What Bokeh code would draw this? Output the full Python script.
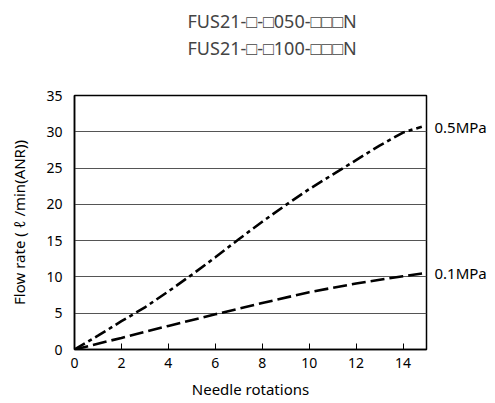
from bokeh.plotting import figure
from bokeh.models import Range1d, FixedTicker, LinearAxis, Title
from bokeh.embed import file_html
from bokeh.resources import INLINE

# Data
x_05 = [0, 1, 2, 3, 4, 5, 6, 7, 8, 9, 10, 11, 12, 13, 14, 14.8]
y_05 = [0, 1.9, 3.9, 5.8, 8.0, 10.3, 12.7, 15.2, 17.6, 19.9, 22.1, 24.1, 26.1, 28.1, 29.9, 30.7]
x_01 = [0, 2, 4, 6, 8, 10, 12, 14, 15]
y_01 = [0, 1.6, 3.25, 4.85, 6.4, 7.9, 9.1, 10.1, 10.55]
x_ticks = [0, 2, 4, 6, 8, 10, 12, 14]
y_ticks = [0, 5, 10, 15, 20, 25, 30, 35]
series_labels = ["0.5MPa", "0.1MPa"]
series_label_y = [30.7, 10.5]
title_lines = ["FUS21-\u25a1-\u25a1050-\u25a1\u25a1\u25a1N", "FUS21-\u25a1-\u25a1100-\u25a1\u25a1\u25a1N"]

FONT = "Noto Sans"

p = figure(frame_width=352, frame_height=254, output_backend="svg", toolbar_location=None,
           x_range=Range1d(0, 15), y_range=Range1d(0, 35),
           min_border_left=74, min_border_right=0, min_border_top=95, min_border_bottom=46)
p.background_fill_color = "white"
p.border_fill_color = "white"
p.outline_line_color = "black"
p.outline_line_width = 1.5

p.xgrid.visible = False
p.ygrid.ticker = FixedTicker(ticks=y_ticks)
p.ygrid.grid_line_color = "#555555"
p.ygrid.grid_line_width = 1

p.xaxis.ticker = FixedTicker(ticks=x_ticks)
p.yaxis.ticker = FixedTicker(ticks=y_ticks)
for ax in (p.xaxis, p.yaxis):
    ax.axis_line_color = "black"
    ax.axis_line_width = 1.5
    ax.major_label_text_font = FONT
    ax.major_label_text_font_size = "14px"
    ax.major_label_text_color = "black"
    ax.axis_label_text_font = FONT
    ax.axis_label_text_font_size = "15px"
    ax.axis_label_text_font_style = "normal"
    ax.axis_label_text_color = "black"
    ax.minor_tick_line_color = None
p.xaxis.major_tick_in = 6
p.xaxis.major_tick_out = 0
p.xaxis.major_tick_line_color = "black"
p.xaxis.major_label_standoff = 8
p.xaxis.axis_label = "Needle rotations"
p.xaxis.axis_label_standoff = 8
p.yaxis.major_tick_line_color = None
p.yaxis.major_label_standoff = 6
p.yaxis.axis_label = "Flow rate ( \u2113 /min(ANR))"
p.yaxis.axis_label_standoff = 14

# right-side series labels as an axis with custom ticks
rax = LinearAxis(ticker=FixedTicker(ticks=series_label_y),
                 major_label_overrides={series_label_y[0]: series_labels[0],
                                        series_label_y[1]: series_labels[1]})
rax.axis_line_color = None
rax.major_tick_line_color = None
rax.minor_tick_line_color = None
rax.major_tick_in = 0
rax.major_tick_out = 0
rax.major_label_standoff = 8
rax.major_label_text_font = FONT
rax.major_label_text_font_size = "15px"
rax.major_label_text_color = "black"
p.add_layout(rax, "right")

p.line(x_05, y_05, line_color="black", line_width=2.6, line_dash="12 4 4 4")
p.line(x_01, y_01, line_color="black", line_width=2.6, line_dash="14 5")

p.add_layout(Title(text=" ", text_font=FONT, text_font_size="17px"), "above")
p.add_layout(Title(text=title_lines[1], text_font=FONT, text_font_size="18px",
                   text_font_style="normal", align="left", offset=113, standoff=1), "above")
p.add_layout(Title(text=title_lines[0], text_font=FONT, text_font_size="18px",
                   text_font_style="normal", align="left", offset=113, standoff=1), "above")

open("out.html", "w").write(file_html(p, INLINE))
